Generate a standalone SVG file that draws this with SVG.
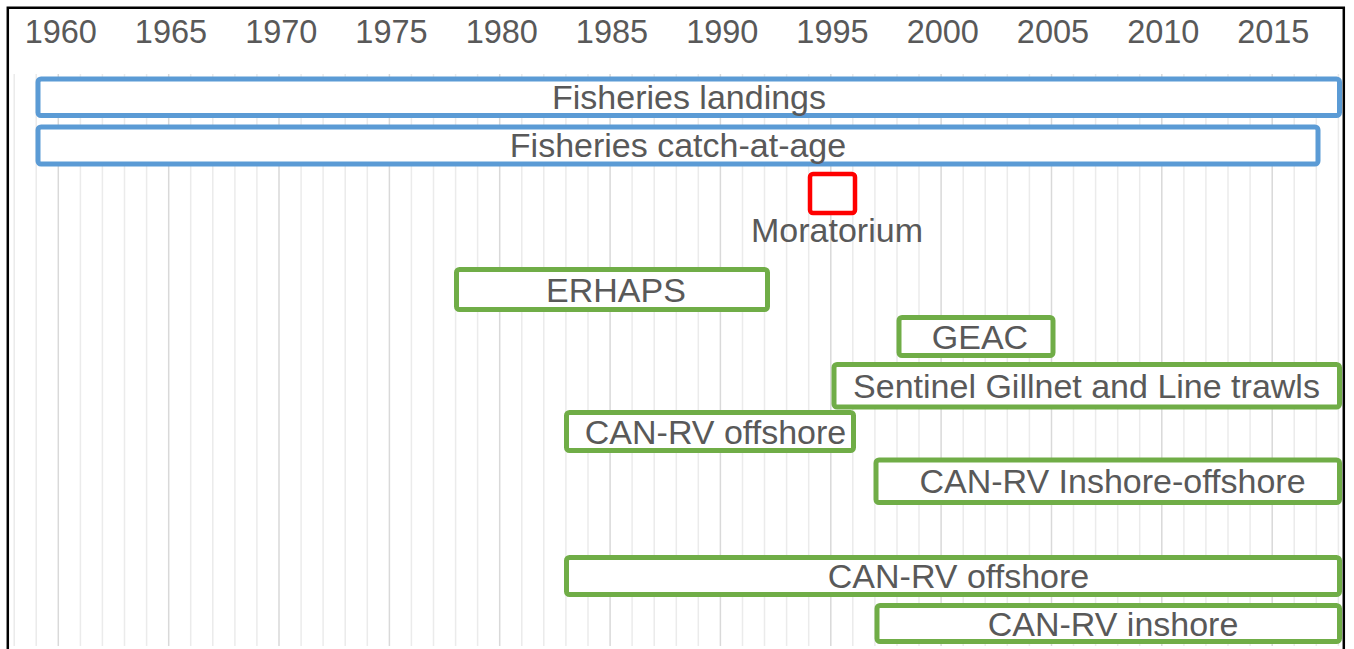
<svg xmlns="http://www.w3.org/2000/svg" width="1354" height="649" viewBox="0 0 1354 649">
<style>
.bg{fill:#ffffff}
.minor{stroke:#ebebeb;stroke-width:1.5;fill:none}
.major{stroke:#d9d9d9;stroke-width:1.5;fill:none}
.axis{font-family:"Liberation Sans",Arial,sans-serif;font-size:32.5px;fill:#595959;text-anchor:middle}
.lbl{font-family:"Liberation Sans",Arial,sans-serif;font-size:34px;fill:#595959;text-anchor:middle}
.blue{fill:#ffffff;stroke:#5b9bd5;stroke-width:5}
.green{fill:#ffffff;stroke:#70ad47;stroke-width:5}
.red{fill:#ffffff;stroke:#ff0000;stroke-width:4.5}
.frame{fill:none;stroke:#000000;stroke-width:2.5}
</style>
<rect class="bg" x="0" y="0" width="1354" height="649"/>
<g id="grid">
<path class="minor" d="M14.2 74V646M36.2 74V646M80.4 74V646M102.4 74V646M124.5 74V646M146.6 74V646M190.7 74V646M212.8 74V646M234.9 74V646M256.9 74V646M301.1 74V646M323.1 74V646M345.2 74V646M367.3 74V646M411.4 74V646M433.5 74V646M455.6 74V646M477.6 74V646M521.8 74V646M543.8 74V646M565.9 74V646M588 74V646M632.1 74V646M654.2 74V646M676.3 74V646M698.3 74V646M742.5 74V646M764.5 74V646M786.6 74V646M808.7 74V646M852.8 74V646M874.9 74V646M897 74V646M919 74V646M963.2 74V646M985.2 74V646M1007.3 74V646M1029.4 74V646M1073.5 74V646M1095.6 74V646M1117.7 74V646M1139.7 74V646M1183.9 74V646M1205.9 74V646M1228 74V646M1250.1 74V646M1294.2 74V646M1316.3 74V646M1338.4 74V646"/>
<path class="major" d="M58.3 74V646M168.7 74V646M279 74V646M389.4 74V646M499.7 74V646M610.1 74V646M720.4 74V646M830.8 74V646M941.1 74V646M1051.5 74V646M1161.8 74V646M1272.2 74V646"/>
</g>
<g id="axis">
<text class="axis" x="60.8" y="43">1960</text>
<text class="axis" x="171" y="43">1965</text>
<text class="axis" x="281.3" y="43">1970</text>
<text class="axis" x="391.5" y="43">1975</text>
<text class="axis" x="501.8" y="43">1980</text>
<text class="axis" x="612" y="43">1985</text>
<text class="axis" x="722.3" y="43">1990</text>
<text class="axis" x="832.5" y="43">1995</text>
<text class="axis" x="942.8" y="43">2000</text>
<text class="axis" x="1053" y="43">2005</text>
<text class="axis" x="1163.3" y="43">2010</text>
<text class="axis" x="1273.3" y="43">2015</text>
</g>
<g id="connectors"></g>
<g id="fisheries-landings">
<rect class="blue" x="38" y="79" width="1301.5" height="36.5" rx="3"/>
<text class="lbl" x="689" y="109">Fisheries landings</text>
</g>
<g id="fisheries-catch-at-age">
<rect class="blue" x="38" y="127" width="1280" height="37" rx="3"/>
<text class="lbl" x="678" y="157">Fisheries catch-at-age</text>
</g>
<g id="moratorium">
<rect class="red" x="810" y="174" width="45" height="39" rx="3"/>
<text class="lbl" x="837" y="242">Moratorium</text>
</g>
<g id="erhaps">
<rect class="green" x="456.5" y="269.5" width="311" height="40" rx="3"/>
<text class="lbl" x="616" y="301.5">ERHAPS</text>
</g>
<g id="geac">
<rect class="green" x="899" y="317.5" width="154" height="38" rx="3"/>
<text class="lbl" x="980" y="349">GEAC</text>
</g>
<g id="sentinel">
<rect class="green" x="834" y="364.5" width="505.5" height="42.5" rx="3"/>
<text class="lbl" x="1086.5" y="397.5">Sentinel Gillnet and Line trawls</text>
</g>
<g id="can-rv-offshore-1">
<rect class="green" x="566.5" y="412.5" width="287" height="38" rx="3"/>
<text class="lbl" x="715.5" y="444">CAN-RV offshore</text>
</g>
<g id="can-rv-inshore-offshore">
<rect class="green" x="876" y="460" width="463.5" height="42.5" rx="3"/>
<text class="lbl" x="1112.5" y="493">CAN-RV Inshore-offshore</text>
</g>
<g id="can-rv-offshore-2">
<rect class="green" x="566.5" y="557.5" width="773" height="37" rx="3"/>
<text class="lbl" x="958.5" y="588">CAN-RV offshore</text>
</g>
<g id="can-rv-inshore">
<rect class="green" x="877" y="605.5" width="462.5" height="36" rx="3"/>
<text class="lbl" x="1113" y="635.5">CAN-RV inshore</text>
</g>
<path id="frame" class="frame" d="M7.8 649V7.8H1343.8V649"/>
</svg>
